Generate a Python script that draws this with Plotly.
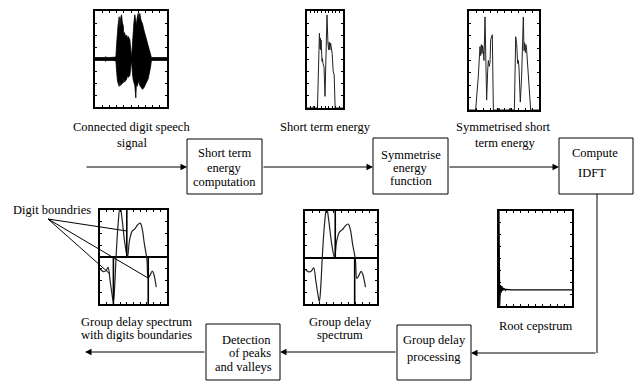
import plotly.graph_objects as go

W, H = 634, 381
FONT = "'Liberation Serif', 'Times New Roman', Times, 'DejaVu Serif', serif"

# ---------------- data ----------------
# Connected digit speech signal: amplitude envelope (normalised time, amplitude)
speech_t = [0.0, 0.1, 0.14, 0.15, 0.16, 0.2, 0.25, 0.29, 0.30, 0.31, 0.32, 0.336, 0.345, 0.355, 0.369,
            0.38, 0.392, 0.40, 0.41, 0.424, 0.44, 0.45, 0.461, 0.484, 0.50, 0.507, 0.52, 0.53, 0.54,
            0.553, 0.567, 0.575, 0.585, 0.60, 0.61, 0.622, 0.64, 0.659, 0.68, 0.691, 0.71, 0.737,
            0.755, 0.77, 0.783, 0.8, 0.9, 1.0]
speech_upper = [0.03, 0.03, 0.03, 0.05, 0.03, 0.03, 0.03, 0.04, 0.3, 0.55, 0.7, 0.88, 0.6, 0.85, 0.92,
                0.75, 0.7, 0.5, 0.55, 0.47, 0.5, 0.42, 0.47, 0.4, 0.15, 0.03, 0.3, 0.61, 0.75,
                0.92, 0.8, 0.7, 0.85, 0.95, 0.8, 0.95, 0.8, 0.74, 0.6, 0.54, 0.45, 0.33,
                0.22, 0.12, 0.03, 0.03, 0.03, 0.03]
speech_lower = [-0.03, -0.03, -0.03, -0.05, -0.03, -0.03, -0.03, -0.04, -0.25, -0.43, -0.5, -0.57, -0.45, -0.55, -0.52,
                -0.5, -0.5, -0.4, -0.48, -0.45, -0.42, -0.35, -0.38, -0.35, -0.12, -0.03, -0.3, -0.43, -0.5,
                -0.55, -0.81, -0.5, -0.57, -0.52, -0.45, -0.55, -0.6, -0.63, -0.6, -0.58, -0.5, -0.42,
                -0.3, -0.18, -0.03, -0.03, -0.03, -0.03]

# Short term energy (normalised frame position, energy)
energy_t = [0.0, 0.164, 0.182, 0.2, 0.291, 0.345, 0.364, 0.373, 0.382, 0.391, 0.4, 0.418, 0.427,
            0.445, 0.464, 0.473, 0.5, 0.527, 0.555, 0.582, 0.6, 0.618, 0.636, 0.655, 0.673,
            0.7, 0.727, 0.755, 0.782, 1.0]
energy = [0.0, 0.0, 0.02, 0.0, 0.0, 0.77, 0.61, 0.72, 0.6, 0.7, 0.63, 0.48, 0.51,
          0.46, 0.43, 0.42, 0.12, 0.6, 0.96, 0.67, 0.6, 0.68, 0.6, 0.67, 0.61,
          0.56, 0.38, 0.34, 0.0, 0.0]

# Symmetrised short term energy
sym_t = [0.0, 0.095, 0.133, 0.157, 0.167, 0.176, 0.186, 0.195, 0.205, 0.214, 0.229, 0.243, 0.252,
         0.267, 0.276, 0.29, 0.3, 0.31, 0.333, 0.348, 0.419, 0.429, 0.438, 0.576, 0.586, 0.595,
         0.648, 0.667, 0.681, 0.695, 0.705, 0.714, 0.733, 0.752, 0.776, 0.786, 0.795, 0.805,
         0.814, 0.824, 0.838, 0.848, 0.881, 1.0]
sym_energy = [0.0, 0.0, 0.34, 0.64, 0.55, 0.66, 0.57, 0.65, 0.6, 0.5, 0.94, 0.34, 0.1,
              0.4, 0.5, 0.44, 0.48, 0.71, 0.76, 0.0, 0.0, 0.02, 0.0, 0.0, 0.02, 0.0,
              0.0, 0.74, 0.67, 0.47, 0.5, 0.43, 0.08, 0.34, 0.94, 0.6, 0.68, 0.58,
              0.66, 0.6, 0.45, 0.4, 0.0, 0.0]

# Root cepstrum
cep_n = [0, 1, 2, 3, 4, 5, 6, 7, 8, 9, 10, 12, 14, 16, 20, 100]
cep_val = [1.0, 0.0, 0.22, 0.14, 0.21, 0.16, 0.19, 0.17, 0.18, 0.165, 0.175, 0.17, 0.172, 0.17, 0.17, 0.17]

# Group delay spectrum
gd_t = [0.0, 0.05, 0.09, 0.12, 0.15, 0.18, 0.2, 0.22, 0.24, 0.27, 0.30, 0.33, 0.37, 0.41,
        0.44, 0.48, 0.52, 0.56, 0.6, 0.63, 0.66, 0.7, 0.72, 0.75, 0.78, 0.8, 0.84]
gd_val = [-0.25, -0.31, -0.29, -0.22, -0.5, -0.8, -0.95, -0.6, 0.0, 0.7, 1.08, 0.8, 0.3, 0.0,
          0.35, 0.55, 0.6, 0.68, 0.72, 0.6, 0.3, -0.05, -0.45, -0.38, -0.3, -0.35, -0.64]

# Digit boundaries (normalised positions): drawn above / below zero line
bounds_left_up = [0.40]
bounds_left_down = [0.20, 0.72]
bounds_mid_up = [0.42]
bounds_mid_down = [0.69]

# ---------------- figure ----------------
fig = go.Figure()
fig.add_trace(go.Scatter(x=[0], y=[0], mode="markers", marker=dict(opacity=0),
                         showlegend=False, hoverinfo="skip"))


def dom(x0, x1, y0, y1):
    return [x0 / W, x1 / W], [1 - y1 / H, 1 - y0 / H]


ax_style = dict(showline=True, mirror="ticks", linecolor="black", linewidth=1.6,
                ticks="inside", ticklen=2, tickcolor="black", tickwidth=0.8,
                showticklabels=False, showgrid=False, zeroline=False)

panels = {
    2: (95, 167, 11, 107, [0, 1], [-1, 1]),        # speech
    3: (307, 343, 11, 108, [0, 1], [0, 1]),        # energy
    4: (469, 539, 11, 110, [0, 1], [0, 1]),        # symmetrised
    5: (100, 167, 210, 304, [0, 1], [-1, 1]),      # group delay with boundaries
    6: (305, 377, 211, 304, [0, 1], [-1, 1]),      # group delay
    7: (499, 572, 211, 306, [0, 100], [0, 1]),     # root cepstrum
}
layout_axes = {}
for k, (x0, x1, y0, y1, xr, yr) in panels.items():
    dx, dy = dom(x0, x1, y0, y1)
    xa = dict(ax_style, domain=dx, range=xr, anchor=f"y{k}", dtick=(xr[1] - xr[0]) / 10)
    ya = dict(ax_style, domain=dy, range=yr, anchor=f"x{k}", dtick=(yr[1] - yr[0]) / 8)
    if k in (5, 6):
        ya.update(zeroline=True, zerolinecolor="black", zerolinewidth=1.6)
    layout_axes[f"xaxis{k}"] = xa
    layout_axes[f"yaxis{k}"] = ya

# speech envelope polygon
fig.add_trace(go.Scatter(x=speech_t + speech_t[::-1], y=speech_upper + speech_lower[::-1],
                         xaxis="x2", yaxis="y2", mode="lines", fill="toself",
                         fillcolor="black", line=dict(color="black", width=0.8),
                         showlegend=False, hoverinfo="skip"))
fig.add_trace(go.Scatter(x=energy_t, y=energy, xaxis="x3", yaxis="y3", mode="lines",
                         line=dict(color="#222", width=1), showlegend=False))
fig.add_trace(go.Scatter(x=sym_t, y=sym_energy, xaxis="x4", yaxis="y4", mode="lines",
                         line=dict(color="#222", width=1), showlegend=False))
fig.add_trace(go.Scatter(x=cep_n, y=cep_val, xaxis="x7", yaxis="y7", mode="lines",
                         line=dict(color="black", width=1.2), showlegend=False))

for k, up, down in ((5, bounds_left_up, bounds_left_down), (6, bounds_mid_up, bounds_mid_down)):
    fig.add_trace(go.Scatter(x=gd_t, y=gd_val, xaxis=f"x{k}", yaxis=f"y{k}", mode="lines",
                             line=dict(color="#222", width=1.2, shape="spline"),
                             showlegend=False))
    bx, by = [], []
    for b in up:
        bx += [b, b, None]
        by += [0, 1.1, None]
    for b in down:
        bx += [b, b, None]
        by += [0, -1.1, None]
    fig.add_trace(go.Scatter(x=bx, y=by, xaxis=f"x{k}", yaxis=f"y{k}", mode="lines",
                             line=dict(color="black", width=1.6), showlegend=False))

# ---------------- diagram: boxes, arrows, text ----------------
shapes = []
boxes = [(187, 262, 139, 194), (373, 448, 138, 194), (559, 633, 138, 194),
         (397, 471, 325, 380), (206, 280, 324, 380)]
for x0, x1, y0, y1 in boxes:
    shapes.append(dict(type="rect", xref="x", yref="y", x0=x0, x1=x1, y0=y0, y1=y1,
                       line=dict(color="black", width=1), fillcolor="white", layer="below"))
# plain connector
shapes.append(dict(type="line", xref="x", yref="y", x0=597, x1=597, y0=194, y1=353,
                   line=dict(color="black", width=1)))
# "Digit boundries" pointer lines
for ex, ey in [(127, 231), (148, 278), (110, 274)]:
    shapes.append(dict(type="line", xref="x", yref="y", x0=48, y0=219, x1=ex, y1=ey,
                       line=dict(color="black", width=1)))

annotations = []
arrows = [((85, 167), (187, 167)), ((262, 167), (373, 167)), ((448, 167), (559, 167)),
          ((597, 353), (471, 353)), ((397, 352), (280, 352)), ((206, 352), (85, 352))]
for (tx, ty), (hx, hy) in arrows:
    annotations.append(dict(xref="x", yref="y", axref="x", ayref="y", x=hx, y=hy, ax=tx, ay=ty,
                            text="", showarrow=True, arrowhead=2, arrowsize=1.3,
                            arrowwidth=1, arrowcolor="black", standoff=0, startstandoff=0))

texts = [
    ("Connected digit speech", 131, 127), ("signal", 132, 143),
    ("Short term energy", 325, 127),
    ("Symmetrised short", 503, 127), ("term energy", 505, 143),
    ("Short term", 224.5, 153), ("energy", 224.5, 168), ("computation", 224.5, 182),
    ("Symmetrise", 410.5, 155), ("energy", 410.5, 168), ("function", 410.5, 181),
    ("Compute", 595, 153), ("IDFT", 592, 173),
    ("Digit boundries", 52, 210),
    ("Root cepstrum", 536, 326),
    ("Group delay spectrum", 136, 322), ("with digits boundaries", 136, 335),
    ("Group delay", 340, 322), ("spectrum", 340, 335),
    ("Group delay", 434, 340), ("processing", 434, 357),
    ("Detection", 246, 340), ("of peaks", 250, 353), ("and valleys", 243, 367),
]
for t, x, y in texts:
    annotations.append(dict(xref="x", yref="y", x=x, y=y, text=t, showarrow=False,
                            xanchor="center", yanchor="middle", borderpad=0,
                            font=dict(family=FONT, size=12.5, color="black")))

fig.update_layout(
    width=W, height=H, autosize=False,
    margin=dict(l=0, r=0, t=0, b=0, pad=0),
    paper_bgcolor="white", plot_bgcolor="rgba(0,0,0,0)",
    showlegend=False,
    font=dict(family=FONT),
    xaxis=dict(range=[0, W], visible=False, domain=[0, 1], fixedrange=True),
    yaxis=dict(range=[H, 0], visible=False, domain=[0, 1], fixedrange=True),
    shapes=shapes, annotations=annotations,
    **layout_axes,
)

fig.write_html("out.html")
